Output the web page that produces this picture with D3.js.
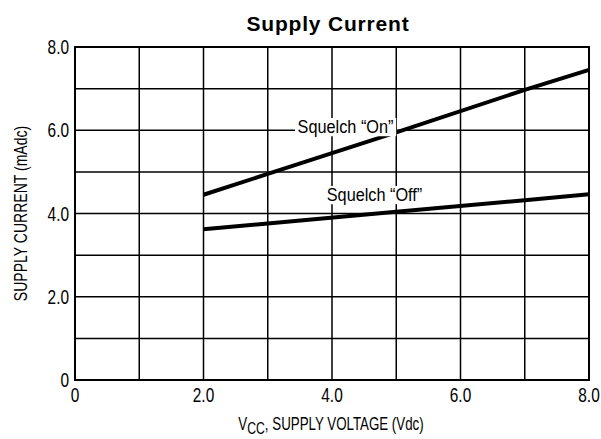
<!DOCTYPE html>
<html>
<head>
<meta charset="utf-8">
<script src="https://cdn.jsdelivr.net/npm/d3@7"></script>
<style>
  body { margin: 0; background: #fff; }
</style>
</head>
<body>
<div id="chart"></div>
<script>
// supply voltage (Vdc) points along each curve
const voltage = [2.0, 3.0, 5.0, 7.0, 8.0];
// supply current (mAdc)
const squelchOn = [4.45, 4.95, 5.95, 6.97, 7.45];
const squelchOff = [3.62, 3.76, 4.04, 4.32, 4.46];
const xTickLabels = ["0", "2.0", "4.0", "6.0", "8.0"];
const yTickLabels = ["0", "2.0", "4.0", "6.0", "8.0"];

const width = 601, height = 439;
const margin = {top: 47, right: 12, bottom: 59, left: 75};
const FONT = "Liberation Sans, Arial, sans-serif";

const svg = d3.select("#chart")
    .append("svg")
    .attr("width", width)
    .attr("height", height);

const x = d3.scaleLinear().domain([0, 8]).range([margin.left, width - margin.right]);
const y = d3.scaleLinear().domain([0, 8]).range([height - margin.bottom, margin.top]);

// condensed text: regular sans squeezed horizontally
function ntext(parent, tx, ty, txt, size, anchor, sx) {
    const g = parent.append("g")
        .attr("transform", "translate(" + tx + "," + ty + ") scale(" + sx + ",1)");
    return g.append("text")
        .attr("text-anchor", anchor)
        .attr("font-family", FONT)
        .attr("font-size", size)
        .text(txt);
}

// grid
svg.append("g")
    .selectAll("line")
    .data(d3.range(0, 9))
    .enter()
    .append("line")
    .attr("x1", d => x(d)).attr("x2", d => x(d))
    .attr("y1", y(0)).attr("y2", y(8))
    .attr("stroke", "#000").attr("stroke-width", 1.5);

svg.append("g")
    .selectAll("line")
    .data(d3.range(0, 9))
    .enter()
    .append("line")
    .attr("y1", d => y(d)).attr("y2", d => y(d))
    .attr("x1", x(0)).attr("x2", x(8))
    .attr("stroke", "#000").attr("stroke-width", 1.5);

svg.append("rect")
    .attr("x", x(0)).attr("y", y(8))
    .attr("width", x(8) - x(0)).attr("height", y(0) - y(8))
    .attr("fill", "none").attr("stroke", "#000").attr("stroke-width", 2);

// tick labels
xTickLabels.forEach(d => ntext(svg, x(+d), y(0) + 22, d, 19.5, "middle", 0.79));
yTickLabels.forEach(d => ntext(svg, x(0) - 6, y(+d) + 7, d, 19.5, "end", 0.79));

// curves
const line = d3.line()
    .x((d, i) => x(voltage[i]))
    .y(d => y(d));

[squelchOn, squelchOff].forEach(s => {
    svg.append("path")
        .datum(s)
        .attr("d", line)
        .attr("fill", "none")
        .attr("stroke", "#000")
        .attr("stroke-width", 4);
});

// curve labels with white backing
function label(txt, cx, cy) {
    const t = ntext(svg, cx, cy, txt, 18.5, "middle", 0.88);
    const b = t.node().getBBox();
    d3.select(t.node().parentNode).insert("rect", "text")
        .attr("x", b.x - 3).attr("y", b.y + 2)
        .attr("width", b.width + 6).attr("height", b.height - 3)
        .attr("fill", "#fff");
}
label("Squelch \u201COn\u201D", 345.5, 133);
label("Squelch \u201COff\u201D", 374.5, 201);

// title
svg.append("text")
    .attr("x", 328).attr("y", 31)
    .attr("text-anchor", "middle")
    .attr("font-family", FONT)
    .attr("font-weight", "bold")
    .attr("font-size", 21)
    .attr("letter-spacing", 0.8)
    .text("Supply Current");

// axis titles
const xt = ntext(svg, 331, 430, "", 18.5, "middle", 0.72);
xt.append("tspan").text("V");
xt.append("tspan").attr("font-size", 17).attr("dy", 4).text("CC");
xt.append("tspan").attr("dy", -4).text(", SUPPLY VOLTAGE (Vdc)");

svg.append("g")
    .attr("transform", "translate(27," + ((y(0) + y(8)) / 2) + ") rotate(-90) scale(0.78,1)")
    .append("text")
    .attr("text-anchor", "middle")
    .attr("font-family", FONT)
    .attr("font-size", 18)
    .text("SUPPLY CURRENT (mAdc)");
</script>
</body>
</html>
